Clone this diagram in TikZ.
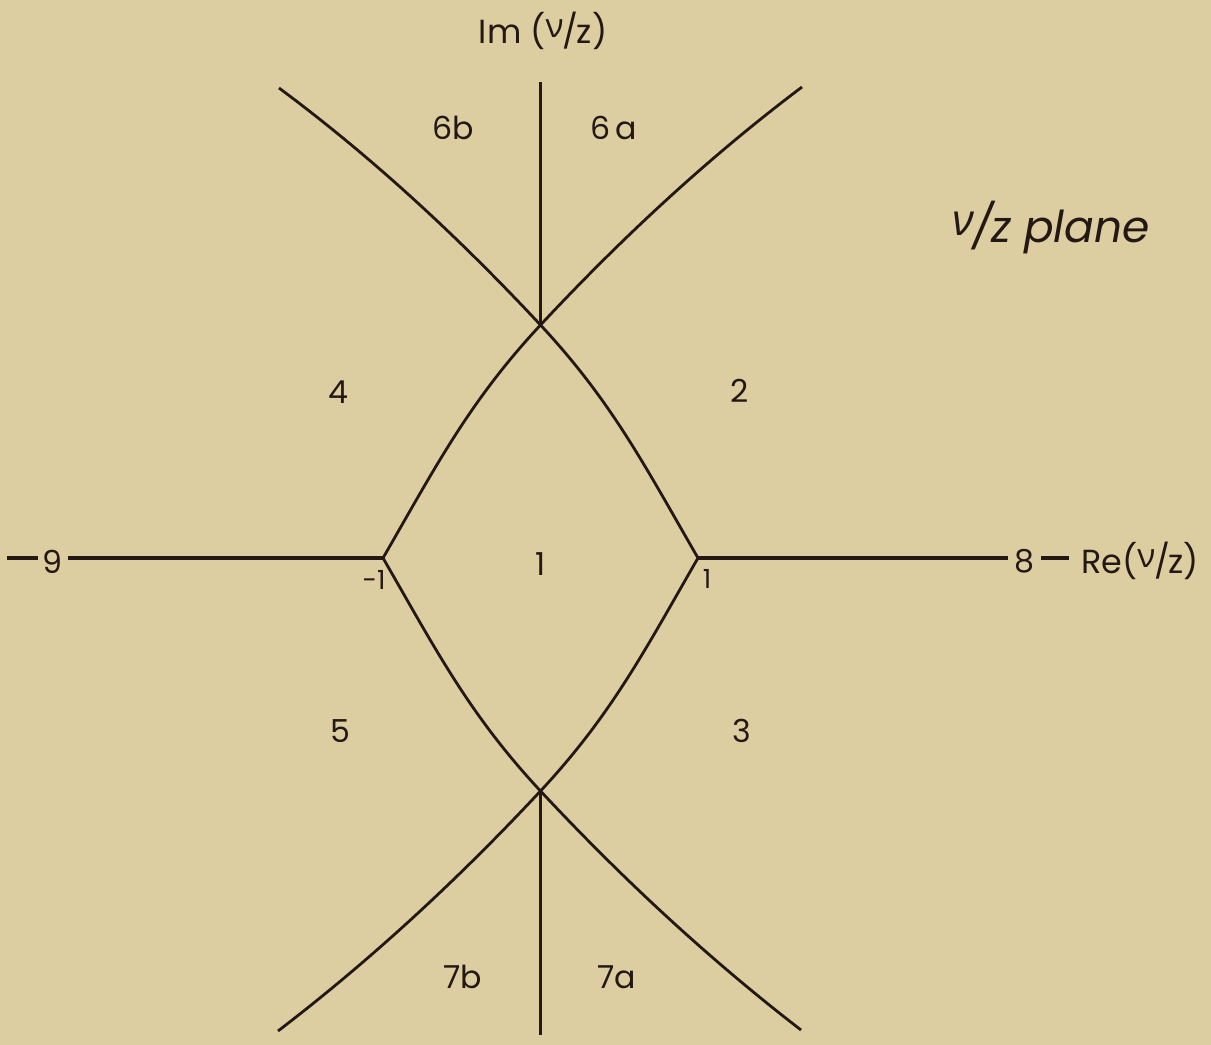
\documentclass[tikz,border=0pt]{standalone}
\usepackage{fontspec}
\setmainfont{Poppins}
\newfontfamily\grkfont{Open Sans}
\definecolor{bg}{RGB}{221,206,162}
\definecolor{ink}{RGB}{36,24,20}
\newcommand{\nuz}{{\grkfont\raisebox{.32ex}{ν}}\kern-.04em/\kern-.04em z}
\begin{document}
\begin{tikzpicture}[x=0.02cm,y=-0.02cm,
  region/.style={text=ink,inner sep=0pt,font=\fontsize{18}{20}\selectfont},
  axislabel/.style={text=ink,inner sep=0pt,font=\fontsize{19}{22}\selectfont},
  ticklabel/.style={text=ink,inner sep=0pt,font=\fontsize{15}{17}\selectfont},
  axisline/.style={draw=ink,line width=1.8pt},
  curveline/.style={draw=ink,line width=1.6pt},
  vline/.style={draw=ink,line width=2.2pt}]
\fill[bg] (0,0) rectangle (1211,1045);
\useasboundingbox (0,0) rectangle (1211,1045);
% key points
\coordinate (m1) at (383,558);
\coordinate (p1) at (698,558);
\coordinate (up) at (540.5,325);
\coordinate (dn) at (540.5,791);
\coordinate (top) at (540.5,82);
\coordinate (bot) at (540.5,1035);
\coordinate (ur) at (802,87);
\coordinate (ul) at (279,88);
\coordinate (lr) at (801,1030);
\coordinate (ll) at (278,1031);
\coordinate (lend) at (68,558);
\coordinate (rend) at (1008,558);
\coordinate (ld1) at (7,558);
\coordinate (ld2) at (38,558);
\coordinate (rd1) at (1041,558);
\coordinate (rd2) at (1069,558);
% curves
\draw[curveline] (m1) .. controls (435.5,467.1) and (468.9,401.8) .. (up)
                      .. controls (621,238.7) and (707.7,158) .. (ur);
\draw[curveline] (p1) .. controls (645.5,467.1) and (612.1,401.8) .. (up)
                      .. controls (460,238.7) and (373.3,158) .. (ul);
\draw[curveline] (m1) .. controls (435.5,648.9) and (468.9,714.2) .. (dn)
                      .. controls (621,877.3) and (707.7,958) .. (lr);
\draw[curveline] (p1) .. controls (645.5,648.9) and (612.1,714.2) .. (dn)
                      .. controls (460,877.3) and (373.3,958) .. (ll);
% axes
\draw[vline] (top) -- (up);
\draw[vline] (dn) -- (bot);
\draw[axisline] (lend) -- (m1);
\draw[axisline] (p1) -- (rend);
\draw[axisline] (ld1) -- (ld2);
\draw[axisline] (rd1) -- (rd2);
% labels
\node[axislabel] (im) at (543,31) {Im (\nuz)};
\node[axislabel] (re) at (1140,561) {Re(\nuz)};
\node[region] (n9) at (52,562) {9};
\node[region] (n8) at (1024,561) {8};
\node[text=ink,inner sep=0pt,font=\fontsize{25}{28}\selectfont\itshape] (plane) at (1051,228) {\nuz\ plane};
\node[region] (r6b) at (453,128) {6b};
\node[region] (r6a) at (614,128) {6\,a};
\node[region] (r4) at (338,392) {4};
\node[region] (r2) at (740,391) {2};
\node[region] (r1) at (541,564) {1};
\node[region] (r5) at (340,731) {5};
\node[region] (r3) at (742,731) {3};
\node[region] (r7b) at (463,977) {7b};
\node[region] (r7a) at (617,977) {7a};
\node[ticklabel] (tm1) at (374,580) {-1};
\node[ticklabel] (tp1) at (707,579) {1};
\end{tikzpicture}
\end{document}
